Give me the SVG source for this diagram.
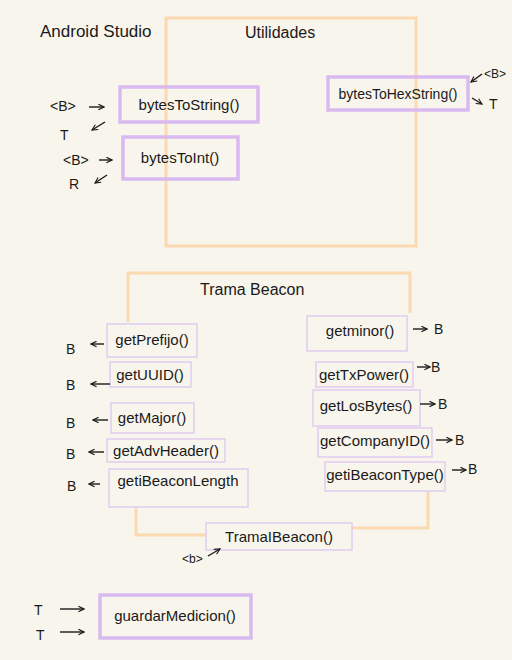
<svg xmlns="http://www.w3.org/2000/svg" width="512" height="660" viewBox="0 0 512 660">
<defs>
<marker id="ah" viewBox="0 0 10 10" refX="9" refY="5" markerWidth="7" markerHeight="7" orient="auto-start-reverse" markerUnits="userSpaceOnUse">
<path d="M1,1 L9,5 L1,9" fill="none" stroke="#1a1a1a" stroke-width="1.6"/>
</marker>
</defs>
<style>
text{font-family:"Liberation Sans",Arial,sans-serif;fill:#1a1a1a}
.t{font-size:15px}
.c{text-anchor:middle}
.frame{fill:none;stroke:#fbdab2;stroke-width:3}
.pb{fill:none;stroke:#d9b9f0;stroke-width:3.5}
.pt{fill:none;stroke:#e0ccef;stroke-width:1.5}
.ar{stroke:#1a1a1a;stroke-width:1.4;fill:none;marker-end:url(#ah)}
</style>
<rect width="512" height="660" fill="#f8f5ec"/>

<g id="frames">
<rect class="frame" x="166" y="18" width="250" height="228"/>
<path class="frame" d="M128,322 V273 H410 V313"/>
<path class="frame" d="M136,507 V535 H206"/>
<path class="frame" d="M428,491 V528 H352"/>
</g>

<g id="titles">
<text x="40" y="37" style="font-size:17px">Android Studio</text>
<text x="245" y="38" style="font-size:16px">Utilidades</text>
<text x="200" y="295" style="font-size:16px">Trama Beacon</text>
</g>

<g id="bytesToString"><rect class="pb" x="120" y="87" width="138" height="35"/><text class="t c" x="189" y="110">bytesToString()</text></g>
<g id="bytesToInt"><rect class="pb" x="123" y="137" width="115" height="42"/><text class="t c" x="180" y="163">bytesToInt()</text></g>
<g id="bytesToHexString"><rect class="pb" x="328" y="77" width="140" height="33"/><text class="c" style="font-size:14px" x="398" y="99">bytesToHexString()</text></g>

<g id="getPrefijo"><rect class="pt" x="107" y="324" width="90" height="33"/><text class="t c" x="152" y="345">getPrefijo()</text></g>
<g id="getUUID"><rect class="pt" x="110" y="362" width="81" height="25"/><text class="t c" x="150" y="380">getUUID()</text></g>
<g id="getMajor"><rect class="pt" x="111" y="403" width="83" height="30"/><text class="t c" x="152" y="423">getMajor()</text></g>
<g id="getAdvHeader"><rect class="pt" x="107" y="439" width="118" height="23"/><text class="t c" x="166" y="456">getAdvHeader()</text></g>
<g id="getiBeaconLength"><rect class="pt" x="109" y="469" width="139" height="38"/><text class="t c" x="178" y="486">getiBeaconLength</text></g>

<g id="getminor"><rect class="pt" x="307" y="316" width="100" height="35"/><text class="t c" x="360" y="336">getminor()</text></g>
<g id="getTxPower"><rect class="pt" x="316" y="362" width="97" height="25"/><text class="t c" x="364" y="380">getTxPower()</text></g>
<g id="getLosBytes"><rect class="pt" x="313" y="390" width="107" height="36"/><text class="t c" x="366" y="411">getLosBytes()</text></g>
<g id="getCompanyID"><rect class="pt" x="318" y="428" width="114" height="29"/><text class="t c" x="375" y="446">getCompanyID()</text></g>
<g id="getiBeaconType"><rect class="pt" x="325" y="462" width="120" height="29"/><text class="t c" x="385" y="480">getiBeaconType()</text></g>
<g id="TramaIBeacon"><rect class="pt" x="206" y="523" width="146" height="27"/><text class="t c" x="279" y="542">TramaIBeacon()</text></g>

<g id="guardarMedicion"><rect class="pb" x="100" y="595" width="151" height="43"/><text class="t c" x="175" y="621">guardarMedicion()</text></g>

<g id="labels" style="font-size:14px">
<text x="50" y="111">&lt;B&gt;</text>
<text x="60" y="140">T</text>
<text x="63" y="165">&lt;B&gt;</text>
<text x="69" y="189">R</text>
<text x="484" y="78" style="font-size:12px">&lt;B&gt;</text>
<text x="489" y="109">T</text>
<text x="66" y="354">B</text>
<text x="66" y="390">B</text>
<text x="66" y="428">B</text>
<text x="66" y="459">B</text>
<text x="67" y="491">B</text>
<text x="434" y="334">B</text>
<text x="431" y="372">B</text>
<text x="438" y="409">B</text>
<text x="455" y="445">B</text>
<text x="468" y="474">B</text>
<text x="182" y="563" style="font-size:12px">&lt;b&gt;</text>
<text x="34" y="615">T</text>
<text x="36" y="640">T</text>
</g>

<g id="connectors">
<line class="ar" x1="89" y1="107" x2="104" y2="107"/>
<line class="ar" x1="105" y1="122" x2="92" y2="130"/>
<line class="ar" x1="99" y1="160" x2="112" y2="160"/>
<line class="ar" x1="107" y1="175" x2="95" y2="183"/>
<line class="ar" x1="482" y1="74" x2="471" y2="82"/>
<line class="ar" x1="472" y1="98" x2="482" y2="104"/>
<line class="ar" x1="104" y1="344" x2="91" y2="344"/>
<line class="ar" x1="110" y1="384" x2="91" y2="384"/>
<line class="ar" x1="108" y1="420" x2="93" y2="420"/>
<line class="ar" x1="104" y1="452" x2="89" y2="452"/>
<line class="ar" x1="100" y1="484" x2="89" y2="484"/>
<line class="ar" x1="413" y1="329" x2="427" y2="329"/>
<line class="ar" x1="417" y1="367" x2="430" y2="367"/>
<line class="ar" x1="420" y1="404" x2="435" y2="404"/>
<line class="ar" x1="436" y1="440" x2="452" y2="440"/>
<line class="ar" x1="452" y1="470" x2="466" y2="470"/>
<line class="ar" x1="208" y1="556" x2="220" y2="549"/>
<line class="ar" x1="60" y1="609" x2="84" y2="609"/>
<line class="ar" x1="60" y1="632" x2="84" y2="632"/>
</g>
</svg>
